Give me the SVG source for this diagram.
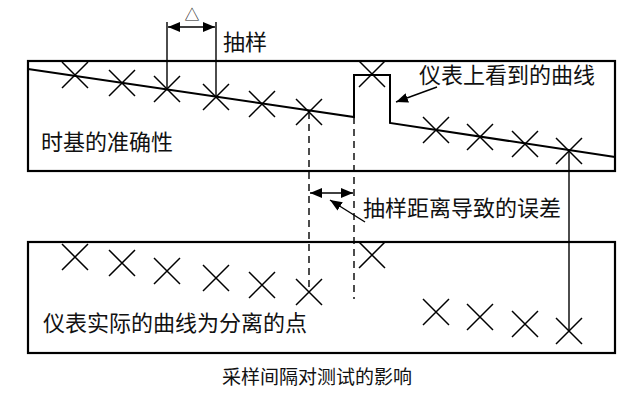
<svg xmlns="http://www.w3.org/2000/svg" width="640" height="418" viewBox="0 0 640 418">
<style>
.box{fill:none;stroke:#000;stroke-width:2.2}
.curve{fill:none;stroke:#000;stroke-width:2}
.x{stroke:#000;stroke-width:1.5;fill:none}
.ln{stroke:#000;stroke-width:1.4;fill:none}
.dash{stroke:#000;stroke-width:1.4;fill:none;stroke-dasharray:7,5}
.lbl{font-family:"Noto Sans CJK SC","Noto Sans",sans-serif;font-size:22px;fill:#111}
.cap{font-family:"Noto Sans CJK SC","Noto Sans",sans-serif;font-size:19px;fill:#111}
</style>
<defs>
<marker id="ah" viewBox="0 0 12 10" refX="12" refY="5" markerWidth="12" markerHeight="10" markerUnits="userSpaceOnUse" orient="auto-start-reverse">
<path d="M0,0 L12,5 L0,10 Z" fill="#000"/>
</marker>
<path id="cx" d="M-13,-13 L13,13 M-13,13 L13,-13" class="x"/>
</defs>
<rect width="640" height="418" fill="#fff"/>

<g id="top-box">
<rect class="box" x="28" y="61" width="587" height="110"/>
<path class="curve" d="M28,69 L354,117 L354,75 L390,75 L390,123 L615,157"/>
<use href="#cx" x="75" y="75"/>
<use href="#cx" x="122" y="83"/>
<use href="#cx" x="167" y="89"/>
<use href="#cx" x="216" y="97"/>
<use href="#cx" x="262" y="104"/>
<use href="#cx" x="309" y="112"/>
<use href="#cx" x="372" y="74"/>
<use href="#cx" x="436" y="130"/>
<use href="#cx" x="480" y="137"/>
<use href="#cx" x="525" y="144"/>
<use href="#cx" x="569" y="151"/>
<text class="lbl" x="41" y="150">时基的准确性</text>
<text class="lbl" x="419" y="83">仪表上看到的曲线</text>
</g>

<g id="bottom-box">
<rect class="box" x="28" y="242" width="587" height="111"/>
<use href="#cx" x="75" y="257"/>
<use href="#cx" x="122" y="263"/>
<use href="#cx" x="167" y="271"/>
<use href="#cx" x="216" y="278"/>
<use href="#cx" x="262" y="285"/>
<use href="#cx" x="309" y="292"/>
<use href="#cx" x="372" y="255"/>
<use href="#cx" x="436" y="312"/>
<use href="#cx" x="480" y="317"/>
<use href="#cx" x="525" y="324"/>
<use href="#cx" x="569" y="331"/>
<text class="lbl" x="43" y="331">仪表实际的曲线为分离的点</text>
</g>

<g id="sampling-label">
<text class="lbl" x="192" y="20" text-anchor="middle" style="font-size:15px">△</text>
<text class="lbl" x="223" y="50">抽样</text>
</g>

<g id="error-label">
<text class="lbl" x="363" y="216">抽样距离导致的误差</text>
</g>

<g id="connectors">
<line class="ln" x1="167" y1="22" x2="167" y2="89"/>
<line class="ln" x1="216" y1="22" x2="216" y2="97"/>
<line class="ln" x1="168" y1="27" x2="215" y2="27" marker-start="url(#ah)" marker-end="url(#ah)"/>
<line class="ln" x1="437" y1="87" x2="396" y2="102" marker-end="url(#ah)"/>
<line class="dash" x1="309" y1="112" x2="309" y2="292"/>
<line class="dash" x1="354" y1="117" x2="354" y2="299"/>
<line class="ln" x1="310" y1="193" x2="353" y2="193" marker-start="url(#ah)" marker-end="url(#ah)"/>
<line class="ln" x1="365" y1="222" x2="330" y2="200" marker-end="url(#ah)"/>
<line class="ln" x1="569" y1="151" x2="569" y2="331"/>
</g>

<text class="cap" x="222" y="384">采样间隔对测试的影响</text>
</svg>
